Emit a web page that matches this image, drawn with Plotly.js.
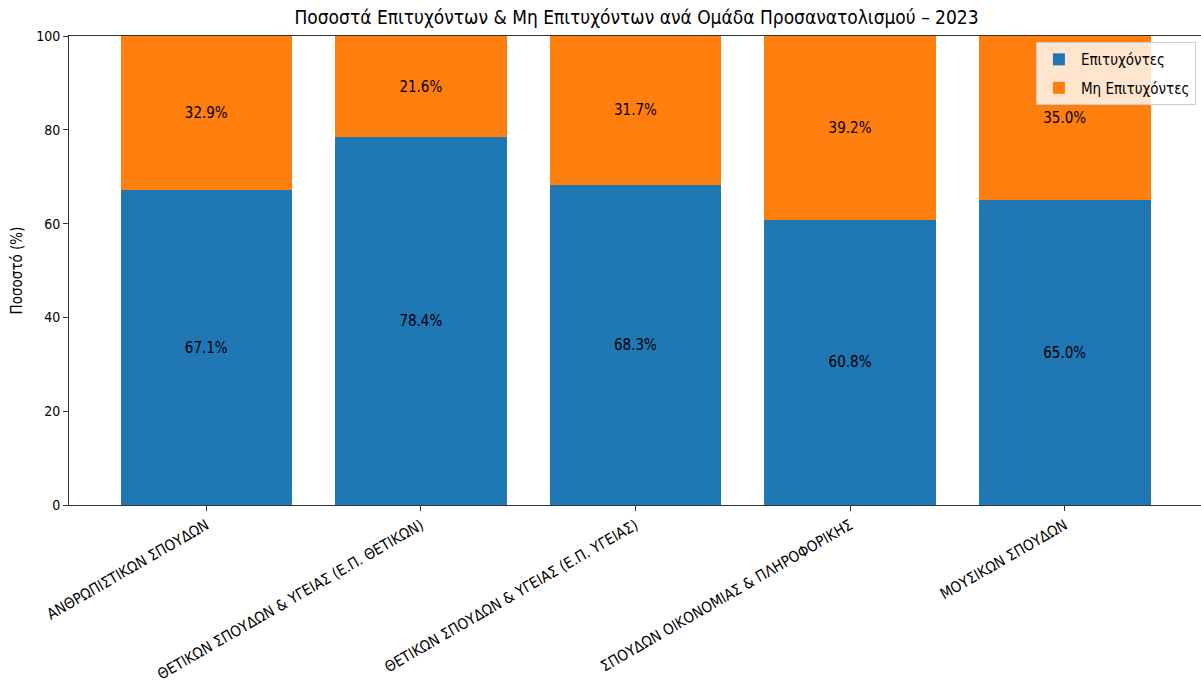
<!DOCTYPE html>
<html>
<head>
<meta charset="utf-8">
<script src="https://cdn.plot.ly/plotly-3.0.1.min.js"></script>
<style>html,body{margin:0;padding:0;background:#fff;}#chart{width:1201px;height:691px;}</style>
</head>
<body>
<div id="chart"></div>
<script>
const categories = [
  "ΑΝΘΡΩΠΙΣΤΙΚΩΝ ΣΠΟΥΔΩΝ",
  "ΘΕΤΙΚΩΝ ΣΠΟΥΔΩΝ & ΥΓΕΙΑΣ (Ε.Π. ΘΕΤΙΚΩΝ)",
  "ΘΕΤΙΚΩΝ ΣΠΟΥΔΩΝ & ΥΓΕΙΑΣ (Ε.Π. ΥΓΕΙΑΣ)",
  "ΣΠΟΥΔΩΝ ΟΙΚΟΝΟΜΙΑΣ & ΠΛΗΡΟΦΟΡΙΚΗΣ",
  "ΜΟΥΣΙΚΩΝ ΣΠΟΥΔΩΝ"
];
const passed = [67.1, 78.4, 68.3, 60.8, 65.0];
const failed = [32.9, 21.6, 31.7, 39.2, 35.0];
const seriesNames = ["Επιτυχόντες", "Μη Επιτυχόντες"];
const yTicks = [0, 20, 40, 60, 80, 100];

const xIdx = categories.map((c, i) => i);
const font = "DejaVu Sans Condensed, DejaVu Sans, sans-serif";

const traces = [
  {
    type: "bar", x: xIdx, y: passed, name: seriesNames[0], legendgroup: "a",
    marker: {color: "#1f77b4"}, width: 0.8,
    text: passed.map(v => v.toFixed(1) + "%"),
    textposition: "inside", insidetextanchor: "middle",
    textfont: {color: "#000", size: 15, family: font},
    hoverinfo: "none"
  },
  {
    type: "bar", x: xIdx, y: failed, name: seriesNames[1], legendgroup: "b",
    marker: {color: "#ff7f0e"}, width: 0.8,
    text: failed.map(v => v.toFixed(1) + "%"),
    textposition: "inside", insidetextanchor: "middle",
    textfont: {color: "#000", size: 15, family: font},
    hoverinfo: "none"
  }
];

const layout = {
  width: 1201, height: 691,
  barmode: "stack",
  margin: {l: 69, r: 0, t: 36, b: 186},
  paper_bgcolor: "#fff", plot_bgcolor: "#fff",
  font: {family: font, color: "#000", size: 15},
  title: {
    text: "Ποσοστά Επιτυχόντων & Μη Επιτυχόντων ανά Ομάδα Προσανατολισμού – 2023",
    font: {family: font, size: 19, color: "#000"},
    x: 0.53, xanchor: "center", y: 0.975, yanchor: "middle", yref: "container"
  },
  xaxis: {
    range: [-0.64, 4.635],
    tickmode: "array", tickvals: xIdx, ticktext: categories,
    tickangle: -30,
    ticks: "outside", ticklen: 5, tickcolor: "#333",
    showline: true, linecolor: "#333", linewidth: 1, mirror: true,
    showgrid: false, zeroline: false,
    tickfont: {family: font, size: 15, color: "#000"}
  },
  yaxis: {
    range: [0, 100],
    tickmode: "array", tickvals: yTicks,
    ticks: "outside", ticklen: 5, tickcolor: "#333",
    showline: true, linecolor: "#333", linewidth: 1, mirror: true,
    showgrid: false, zeroline: false,
    tickfont: {family: font, size: 14, color: "#000"},
    title: {text: "Ποσοστό (%)", font: {family: font, size: 15, color: "#000"}, standoff: 9}
  },
  legend: {
    x: 0.9955, xanchor: "right", y: 0.987, yanchor: "top",
    bgcolor: "rgba(255,255,255,0.8)", bordercolor: "#ccc", borderwidth: 1,
    font: {family: font, size: 15, color: "#000"},
    traceorder: "grouped", tracegroupgap: 6, itemwidth: 34
  },
  showlegend: true
};

Plotly.newPlot("chart", traces, layout, {displayModeBar: false, staticPlot: true});
</script>
</body>
</html>
